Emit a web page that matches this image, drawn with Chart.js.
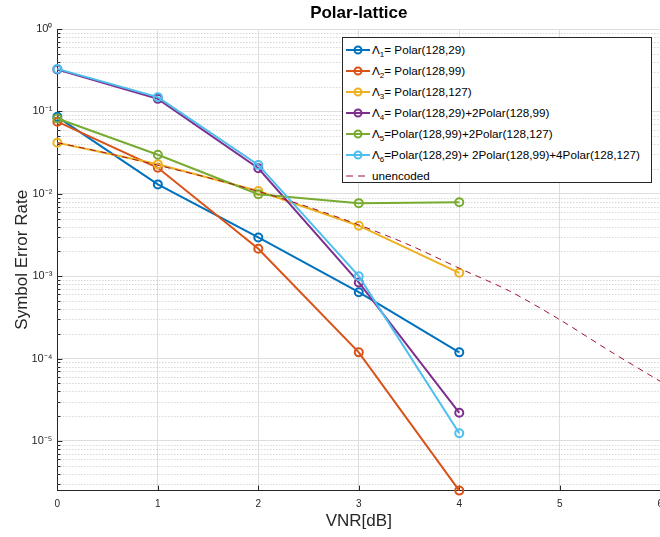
<!DOCTYPE html>
<html>
<head>
<meta charset="utf-8">
<script src="https://cdn.jsdelivr.net/npm/chart.js@4.4.1/dist/chart.umd.min.js"></script>
<style>
  html, body { margin: 0; padding: 0; overflow: hidden; background: #fff; }
  #wrap { position: relative; width: 671px; height: 537px; }
  #legend {
    position: absolute; left: 342px; top: 37px; width: 310px; height: 146px;
    box-sizing: border-box; border: 1px solid #262626; background: #fff;
    font: 11.7px "Liberation Sans", Arial, sans-serif; color: #000; padding-top: 1px;
  }
  #legend div { height: 21px; display: flex; align-items: center; white-space: nowrap; }
  #legend svg { margin: 0 2px 0 3px; flex: none; }
  #legend sub { font-size: 8px; vertical-align: -3px; line-height: 0; }
</style>
</head>
<body>
<div id="wrap">
  <canvas id="grafico"></canvas>
  <div id="legend"></div>
</div>
<script>
// VNR em dB (eixo x)
const vnr = [0, 1, 2, 3, 4];
const vnrUnencoded = [0, 0.5, 1, 1.5, 2, 2.5, 3, 3.5, 4, 4.5, 5, 5.5, 6];

// taxa de erro de símbolo
const lambda1 = [0.086, 0.013, 0.00295, 0.00064, 0.000119];
const lambda2 = [0.075, 0.0207, 0.00215, 0.000119, 0.0000025];
const lambda3 = [0.0417, 0.0228, 0.0108, 0.0041, 0.0011];
const lambda4 = [0.322, 0.142, 0.0204, 0.00084, 0.000022];
const lambda5 = [0.082, 0.0298, 0.0099, 0.0077, 0.0079];
const lambda6 = [0.328, 0.149, 0.0224, 0.001, 0.0000124];
const unencoded = [0.0417, 0.031, 0.0222, 0.0157, 0.0107, 0.0069, 0.0042, 0.0024, 0.00125, 0.00066, 0.000297, 0.000123, 0.000053];

const nomes = [
  'Λ<sub>1</sub>= Polar(128,29)',
  'Λ<sub>2</sub>= Polar(128,99)',
  'Λ<sub>3</sub>= Polar(128,127)',
  'Λ<sub>4</sub>= Polar(128,29)+2Polar(128,99)',
  'Λ<sub>5</sub>=Polar(128,99)+2Polar(128,127)',
  'Λ<sub>6</sub>=Polar(128,29)+ 2Polar(128,99)+4Polar(128,127)',
  'unencoded'
];
const cores = ['#0072BD', '#D95319', '#EDB120', '#7E2F8E', '#77AC30', '#4DBEEE', '#A2142F'];
const series = [lambda1, lambda2, lambda3, lambda4, lambda5, lambda6];

const FONT = '"Liberation Sans", Arial, sans-serif';
const sup = { '0': '⁰', '1': '¹', '2': '²', '3': '³', '4': '⁴', '5': '⁵', '6': '⁶', '-': '⁻' };

function isDecade(v) {
  const l = Math.log10(v);
  return Math.abs(l - Math.round(l)) < 1e-6;
}

const datasets = series.map((s, i) => ({
  label: nomes[i].replace(/<\/?sub>/g, ''),
  data: s.map((v, k) => ({ x: vnr[k], y: v })),
  borderColor: cores[i],
  backgroundColor: cores[i],
  pointBackgroundColor: 'rgba(0,0,0,0)',
  pointBorderColor: cores[i],
  pointRadius: 4,
  pointBorderWidth: 2,
  borderWidth: 2,
  tension: 0,
  clip: false,
  order: -i
}));
datasets.push({
  label: 'unencoded',
  data: unencoded.map((v, k) => ({ x: vnrUnencoded[k], y: v })),
  borderColor: cores[6],
  borderWidth: 1,
  borderDash: [6, 5],
  pointRadius: 0,
  tension: 0.3,
  order: -10
});

// grade menor pontilhada e marcas internas, estilo MATLAB
const logGrid = {
  id: 'logGrid',
  beforeDatasetsDraw(chart) {
    const { ctx, chartArea: a, scales: { x, y } } = chart;
    ctx.save();
    for (let e = -6; e <= 0; e++) {
      for (let m = 1; m <= 9; m++) {
        const v = m * Math.pow(10, e);
        if (v < y.min * 0.999 || v > y.max * 1.001) continue;
        const py = Math.round(y.getPixelForValue(v)) + 0.5;
        if (m > 1) {
          ctx.strokeStyle = '#c4c4c4';
          ctx.lineWidth = 1;
          ctx.setLineDash([1, 2]);
          ctx.beginPath();
          ctx.moveTo(a.left, py);
          ctx.lineTo(a.right, py);
          ctx.stroke();
        }
        ctx.setLineDash([]);
        ctx.strokeStyle = '#262626';
        ctx.beginPath();
        ctx.moveTo(a.left, py);
        ctx.lineTo(a.left + (m === 1 ? 5 : 3), py);
        ctx.stroke();
      }
    }
    for (let t = 1; t <= 6; t++) {
      const px = Math.round(x.getPixelForValue(t)) + 0.5;
      ctx.beginPath();
      ctx.moveTo(px, a.bottom);
      ctx.lineTo(px, a.bottom - 5);
      ctx.stroke();
    }
    ctx.restore();
  },
  afterDraw(chart) {
    const { ctx, chartArea: a } = chart;
    ctx.save();
    ctx.font = 'bold 17px ' + FONT;
    ctx.fillStyle = '#000';
    ctx.textAlign = 'center';
    ctx.textBaseline = 'alphabetic';
    ctx.fillText('Polar-lattice', (a.left + a.right) / 2, 18);
    ctx.restore();
  }
};

const ctx = document.getElementById('grafico').getContext('2d');
window.myChart = new Chart(ctx, {
  type: 'line',
  data: { datasets },
  plugins: [logGrid],
  options: {
    responsive: true,
    maintainAspectRatio: false,
    animation: false,
    layout: { padding: { top: 29, left: 12, right: 0, bottom: 0 } },
    plugins: { legend: { display: false }, tooltip: { enabled: false } },
    scales: {
      x: {
        type: 'linear',
        min: 0,
        max: 6,
        border: { color: '#262626', width: 1 },
        grid: { color: '#dedede', drawTicks: false },
        ticks: { stepSize: 1, color: '#262626', font: { family: FONT, size: 10 }, padding: 8 },
        title: { display: true, text: 'VNR[dB]', color: '#262626', font: { family: FONT, size: 17 }, padding: { top: -7, bottom: 5 } }
      },
      y: {
        type: 'logarithmic',
        min: 0.0000025,
        max: 1,
        border: { color: '#262626', width: 1 },
        grid: {
          drawTicks: false,
          color: c => (c.tick && isDecade(c.tick.value)) ? '#dedede' : 'rgba(0,0,0,0)'
        },
        ticks: {
          autoSkip: false,
          color: '#262626',
          font: { family: FONT, size: 11 },
          padding: 5,
          callback: v => {
            if (!isDecade(v)) return '';
            const e = String(Math.round(Math.log10(v)));
            return '10' + e.split('').map(ch => sup[ch]).join('');
          }
        },
        title: { display: true, text: 'Symbol Error Rate', color: '#262626', font: { family: FONT, size: 17 }, padding: { top: 0, bottom: -6 } }
      }
    }
  }
});

// legenda em HTML, montada a partir dos datasets
const legend = document.getElementById('legend');
myChart.data.datasets.forEach((d, i) => {
  const row = document.createElement('div');
  let svg;
  if (i < 6) {
    svg = `<svg width="24" height="12"><line x1="0" y1="6" x2="24" y2="6" stroke="${d.borderColor}" stroke-width="2"/>` +
          `<circle cx="12" cy="6" r="3.5" fill="none" stroke="${d.borderColor}" stroke-width="2"/></svg>`;
  } else {
    svg = `<svg width="24" height="12"><line x1="0" y1="6" x2="24" y2="6" stroke="${d.borderColor}" stroke-width="1" stroke-dasharray="7,5"/></svg>`;
  }
  row.innerHTML = svg + '<span>' + nomes[i] + '</span>';
  legend.appendChild(row);
});
</script>
</body>
</html>
